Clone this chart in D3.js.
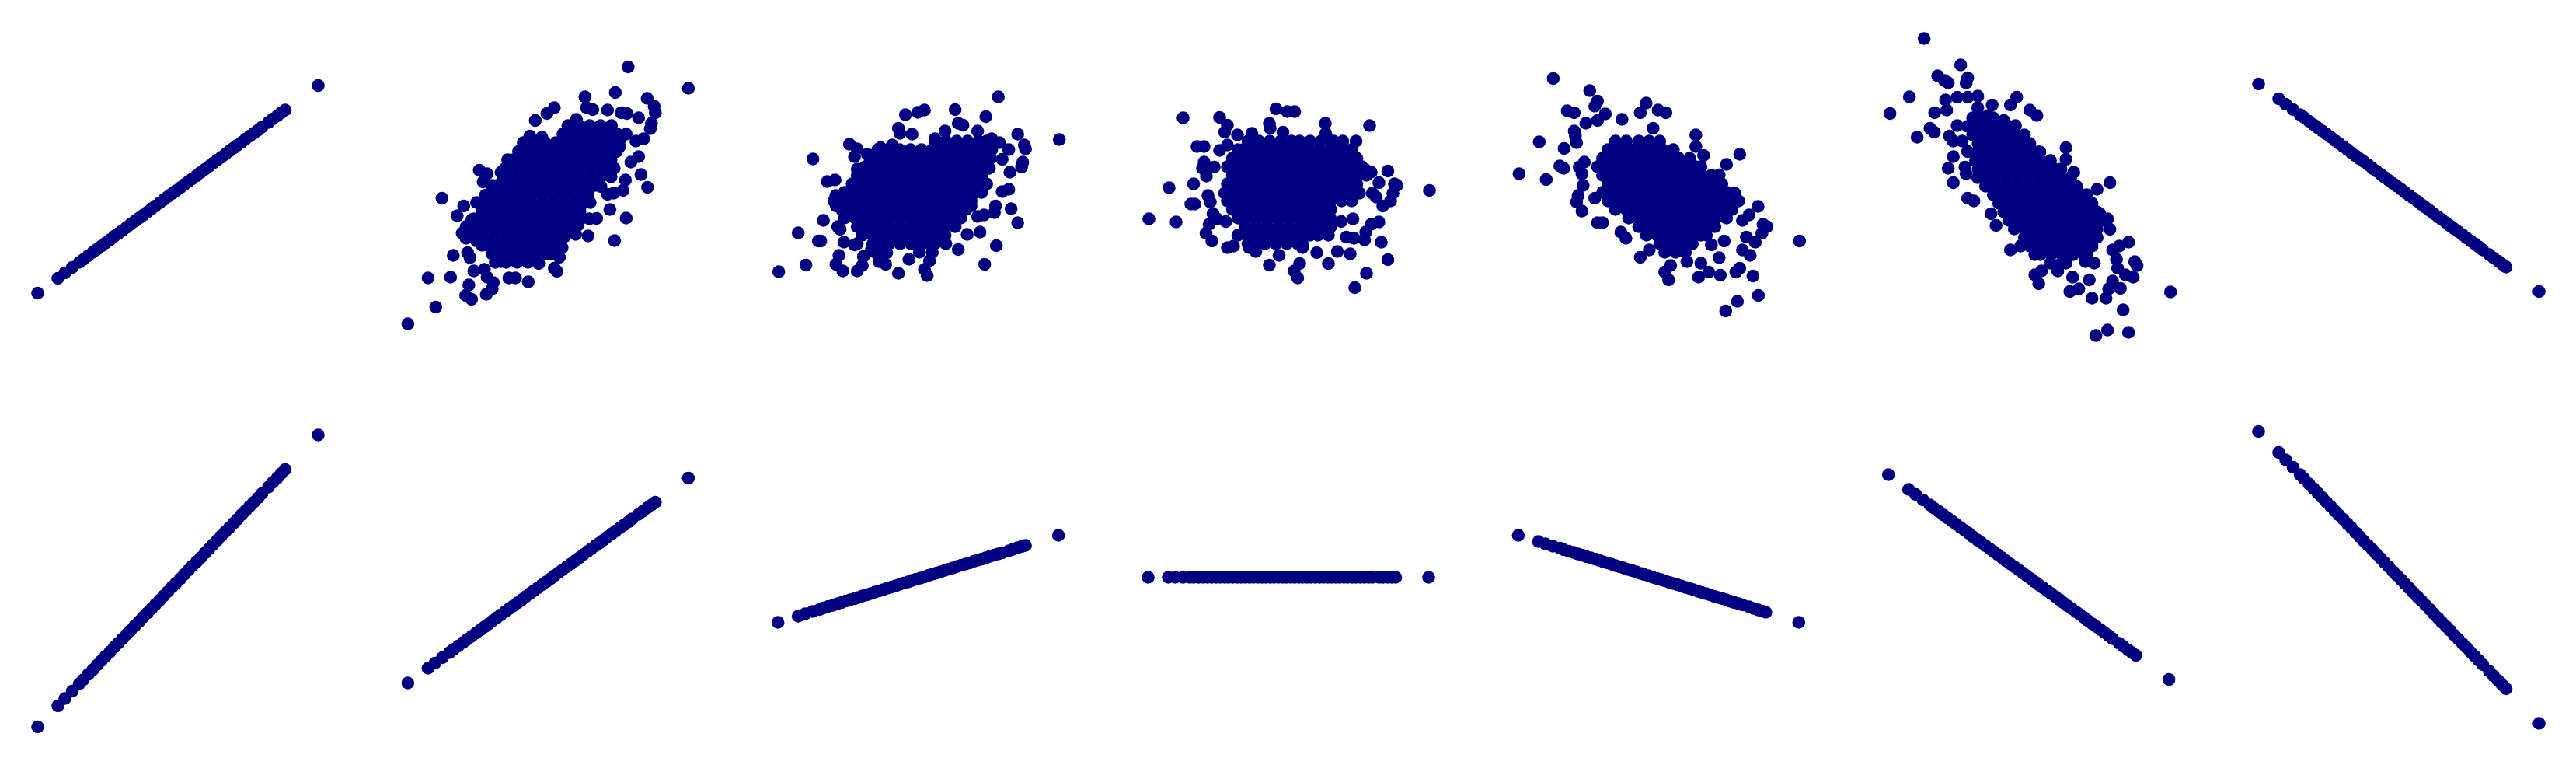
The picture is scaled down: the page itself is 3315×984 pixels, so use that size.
<!DOCTYPE html>
<html><head><meta charset="utf-8">
<script src="https://cdn.jsdelivr.net/npm/d3@7"></script>
<style>html,body{margin:0;padding:0;background:#fff;}svg{display:block;}</style>
</head><body>
<svg id="chart" width="3315" height="984"></svg>
<script>
// ---------- DATA (in standardised units) ----------
// shared x sample used by the perfectly linear panels
const xShared = [-3.57,-3.05,-2.87,-2.68,-2.5,-2.4,-2.27,-2.15,-2.04,-1.93,-1.82,-1.71,-1.6,-1.5,-1.39,-1.28,-1.18,-1.07,-0.96,-0.86,-0.75,-0.64,-0.54,-0.43,-0.33,-0.22,-0.11,-0.01,0.1,0.2,0.31,0.41,0.52,0.62,0.73,0.84,0.94,1.05,1.15,1.26,1.36,1.47,1.57,1.68,1.78,1.89,1.99,2.1,2.2,2.37,2.48,2.6,2.7,2.8,3.65];

// row 1, r = 1 and r = -1
const yR1C1 = [-2.64,-2.26,-2.12,-1.98,-1.85,-1.78,-1.68,-1.59,-1.51,-1.43,-1.35,-1.27,-1.18,-1.11,-1.03,-0.95,-0.87,-0.79,-0.71,-0.64,-0.56,-0.47,-0.40,-0.32,-0.24,-0.16,-0.08,-0.01,0.07,0.15,0.23,0.30,0.38,0.46,0.54,0.62,0.70,0.78,0.85,0.93,1.01,1.09,1.16,1.24,1.32,1.40,1.47,1.55,1.63,1.75,1.84,1.92,2.00,2.07,2.70];
const yR1C7 = [2.74,2.36,2.22,2.08,1.95,1.88,1.78,1.69,1.61,1.53,1.45,1.37,1.28,1.21,1.13,1.05,0.97,0.89,0.81,0.74,0.66,0.57,0.50,0.42,0.34,0.26,0.18,0.11,0.03,-0.05,-0.13,-0.20,-0.28,-0.36,-0.44,-0.52,-0.60,-0.68,-0.75,-0.83,-0.91,-0.99,-1.06,-1.14,-1.22,-1.30,-1.37,-1.45,-1.53,-1.65,-1.74,-1.82,-1.90,-1.97,-2.60];

// row 2, r = 1 / -1 / 0 with different slopes
const yR2C1 = [-3.80,-3.26,-3.07,-2.88,-2.69,-2.59,-2.45,-2.33,-2.21,-2.10,-1.98,-1.87,-1.75,-1.65,-1.54,-1.42,-1.32,-1.20,-1.09,-0.98,-0.87,-0.76,-0.65,-0.54,-0.43,-0.32,-0.20,-0.10,0.01,0.12,0.23,0.34,0.45,0.55,0.67,0.78,0.89,1.00,1.11,1.22,1.32,1.44,1.54,1.66,1.76,1.88,1.98,2.09,2.20,2.37,2.49,2.61,2.72,2.82,3.71];
const yR2C2 = [-2.67,-2.29,-2.16,-2.02,-1.89,-1.81,-1.72,-1.63,-1.55,-1.47,-1.39,-1.31,-1.23,-1.16,-1.07,-0.99,-0.92,-0.84,-0.76,-0.69,-0.61,-0.53,-0.45,-0.37,-0.30,-0.22,-0.14,-0.07,0.01,0.09,0.17,0.24,0.32,0.39,0.47,0.55,0.63,0.71,0.78,0.86,0.93,1.01,1.09,1.17,1.24,1.32,1.39,1.47,1.55,1.67,1.75,1.84,1.91,1.98,2.60];
const yR2C3 = [-1.11,-0.95,-0.89,-0.83,-0.78,-0.74,-0.70,-0.67,-0.63,-0.60,-0.56,-0.53,-0.50,-0.47,-0.43,-0.40,-0.37,-0.33,-0.30,-0.27,-0.23,-0.20,-0.17,-0.13,-0.10,-0.07,-0.03,0.00,0.03,0.06,0.10,0.13,0.16,0.19,0.23,0.26,0.29,0.33,0.36,0.39,0.42,0.46,0.49,0.52,0.55,0.59,0.62,0.65,0.68,0.73,0.77,0.81,0.84,0.87,1.13];
const yR2C4 = [0.05,0.05,0.05,0.05,0.05,0.05,0.05,0.05,0.05,0.05,0.05,0.05,0.05,0.05,0.05,0.05,0.05,0.05,0.05,0.05,0.05,0.05,0.05,0.05,0.05,0.05,0.05,0.05,0.05,0.05,0.05,0.05,0.05,0.05,0.05,0.05,0.05,0.05,0.05,0.05,0.05,0.05,0.05,0.05,0.05,0.05,0.05,0.05,0.05,0.05,0.05,0.05,0.05,0.05,0.05];
const yR2C5 = [1.13,0.97,0.91,0.85,0.80,0.76,0.72,0.69,0.65,0.62,0.58,0.55,0.52,0.49,0.45,0.42,0.39,0.35,0.32,0.29,0.25,0.22,0.19,0.15,0.12,0.09,0.05,0.02,-0.01,-0.04,-0.08,-0.11,-0.14,-0.17,-0.21,-0.24,-0.27,-0.31,-0.34,-0.37,-0.40,-0.44,-0.47,-0.50,-0.53,-0.57,-0.60,-0.63,-0.66,-0.71,-0.75,-0.79,-0.82,-0.85,-1.11];
const yR2C6 = [2.69,2.31,2.18,2.04,1.91,1.83,1.74,1.65,1.57,1.49,1.41,1.33,1.25,1.18,1.09,1.01,0.94,0.86,0.78,0.71,0.63,0.55,0.47,0.39,0.32,0.24,0.16,0.09,0.01,-0.07,-0.15,-0.22,-0.30,-0.37,-0.45,-0.53,-0.61,-0.69,-0.76,-0.84,-0.91,-0.99,-1.07,-1.15,-1.22,-1.30,-1.37,-1.45,-1.53,-1.65,-1.73,-1.82,-1.89,-1.96,-2.58];
const yR2C7 = [3.80,3.26,3.07,2.88,2.69,2.59,2.45,2.33,2.21,2.10,1.98,1.87,1.75,1.65,1.54,1.42,1.32,1.20,1.09,0.98,0.87,0.76,0.65,0.54,0.43,0.32,0.20,0.10,-0.01,-0.12,-0.23,-0.34,-0.45,-0.55,-0.67,-0.78,-0.89,-1.00,-1.11,-1.22,-1.32,-1.44,-1.54,-1.66,-1.76,-1.88,-1.98,-2.09,-2.20,-2.37,-2.49,-2.61,-2.72,-2.82,-3.71];

// scattered clouds: outlying points as [x, y]
const outer08 = [[2.1,3.18],[3.65,2.63],[1.77,2.52],[0.99,2.41],[2.59,2.37],[2.77,2.17],[2.8,2.0],[2.7,1.73],[2.67,1.59],[2.37,1.87],[2.07,1.98],[1.92,2.0],[1.57,2.07],[1.03,2.13],[1.19,2.08],[0.2,2.13],[0.01,1.98],[-0.29,1.8],[0.77,1.83],[2.5,1.33],[2.3,1.27],[1.87,1.27],[1.88,1.13],[2.37,0.87],[2.17,0.73],[2.43,0.41],[2.6,0.08],[2.03,0.27],[1.97,0.0],[1.73,-0.07],[1.57,-0.1],[1.4,0.1],[1.63,-0.49],[2.05,-0.71],[1.29,-0.72],[1.1,-0.73],[1.07,-1.17],[1.75,-1.29],[0.75,-1.13],[0.8,-0.9],[0.37,-1.27],[0.4,-1.47],[0.33,-1.72],[0.27,-2.08],[0.2,-2.0],[-0.2,-1.88],[-0.47,-2.35],[-0.8,-2.25],[-0.97,-2.25],[-0.77,-1.83],[-1.17,-1.83],[-1.4,-2.53],[-1.55,-2.67],[-1.37,-2.37],[-1.93,-2.8],[-2.08,-2.7],[-2.0,-2.43],[-2.47,-2.23],[-2.4,-1.67],[-3.05,-2.25],[-2.85,-3.0],[-3.57,-3.43],[-1.97,-1.73],[-2.03,-1.6],[-1.87,-2.07],[-1.6,-2.03],[-1.53,-2.23],[-2.69,-0.2],[-2.3,-0.65],[-2.13,-0.4],[-2.07,-0.93],[-2.17,-1.1],[-2.07,-1.23],[-1.8,-1.3],[-1.73,0.52],[-1.53,0.43],[-1.63,0.22],[-1.17,0.47],[-1.57,-0.12],[-0.43,1.4],[-0.47,1.27],[-0.12,1.37],[-0.63,0.87],[-0.92,0.73],[-1.87,-0.73]];
const outer04 = [[2.1,2.41],[3.67,1.31],[1.78,1.9],[0.99,2.08],[1.07,1.73],[1.19,1.68],[2.6,1.45],[2.77,1.17],[2.8,1.07],[2.73,0.73],[2.7,0.6],[2.37,1.05],[2.2,0.8],[2.4,0.47],[1.87,0.57],[1.57,1.53],[1.93,1.33],[2.13,1.23],[0.2,2.07],[0.03,2.01],[-0.29,1.95],[-0.47,1.6],[-0.43,1.47],[-0.12,1.45],[0.73,1.53],[0.47,1.33],[2.37,0.03],[2.2,-0.03],[1.67,0.2],[2.43,-0.47],[2.6,-0.83],[2.0,-0.57],[2.03,-0.4],[1.73,-0.63],[1.57,-0.67],[1.4,-0.4],[1.63,-1.07],[2.05,-1.42],[1.3,-1.13],[1.07,-1.52],[1.75,-1.9],[0.75,-1.37],[0.37,-1.4],[0.33,-1.81],[0.27,-2.19],[0.2,-2.03],[-0.2,-1.77],[-0.47,-2.13],[-0.8,-1.9],[-0.97,-1.83],[-0.77,-1.6],[-1.17,-1.53],[-1.4,-1.93],[-1.53,-2.07],[-1.37,-1.7],[-1.9,-2.07],[-2.08,-1.9],[-2.0,-1.67],[-2.47,-1.3],[-2.53,-1.3],[-2.4,-0.77],[-3.05,-1.09],[-2.85,-1.92],[-3.55,-2.09],[-1.97,-1.0],[-2.03,-0.93],[-1.87,-1.33],[-1.53,-1.37],[-1.6,-1.4],[-2.67,0.81],[-2.3,0.23],[-2.1,0.27],[-2.08,-0.13],[-2.13,-0.27],[-2.07,-0.4],[-1.73,1.19],[-1.53,1.07],[-1.6,0.87],[-1.27,0.93],[-1.13,0.9],[-1.53,0.55],[-0.63,1.17],[-0.93,1.1],[-1.87,-0.07]];
const outer00 = [[2.13,1.67],[3.67,0],[1.78,1.27],[0.99,1.73],[1.0,1.47],[1.2,1.27],[2.6,0.5],[2.77,0.17],[2.83,0.13],[2.73,-0.07],[2.67,-0.27],[2.37,0.2],[2.2,-0.07],[2.3,-0.17],[2.47,-0.4],[2.03,0.53],[2.17,0.47],[1.6,0.97],[0.2,2.03],[0.01,2.03],[-0.28,2.1],[-0.45,1.73],[-0.43,1.6],[-0.1,1.5],[2.37,-0.81],[2.17,-0.87],[1.87,-0.07],[1.7,-0.73],[2.43,-1.33],[2.6,-1.78],[2.0,-1.27],[2.03,-1.07],[1.73,-1.23],[1.53,-1.2],[1.4,-0.8],[1.63,-1.63],[2.05,-2.13],[1.3,-1.57],[1.07,-1.88],[1.75,-2.5],[0.77,-1.6],[0.4,-1.47],[0.33,-1.88],[0.28,-2.25],[0.19,-2.07],[-0.2,-1.67],[-0.45,-1.92],[-0.8,-1.57],[-0.97,-1.47],[-1.37,-1.43],[-1.53,-1.47],[-1.93,-1.3],[-2.08,-1.1],[-2.0,-0.87],[-2.47,-0.35],[-2.37,-0.35],[-2.4,0.17],[-3.03,0.07],[-2.85,-0.81],[-3.55,-0.73],[-1.9,-0.6],[-1.8,-0.73],[-1.57,-0.8],[-2.03,-0.13],[-1.97,-0.3],[-2.67,1.87],[-2.31,1.13],[-2.13,1.13],[-2.13,0.73],[-2.17,0.57],[-2.07,0.37],[-1.73,1.88],[-1.53,1.68],[-1.6,1.5],[-1.53,1.17],[-1.73,1.03],[-1.27,1.43],[-0.9,1.47],[-1.87,0.6],[-1.6,-0.07]];
const outerN04 = [[-2.67,2.88],[-1.73,2.57],[-1.53,2.3],[-1.6,2.17],[-2.31,2.05],[-2.13,2.0],[-3.03,1.25],[-3.55,0.43],[-2.85,0.28],[-2.39,1.08],[-2.5,0.63],[-2.4,0.57],[-2.13,1.53],[-2.1,1.4],[-2.07,1.23],[-1.83,1.73],[-1.53,1.8],[-1.33,1.97],[-0.9,1.83],[-0.28,2.25],[-0.43,2.0],[0.03,2.07],[0.23,2.0],[-0.1,1.6],[1.0,1.43],[-1.87,0.73],[-2.0,0.6],[-1.93,0.43],[-1.9,0.13],[-2.03,-0.13],[-2.07,-0.3],[-1.93,-0.53],[-1.6,-0.2],[-1.53,-0.83],[-1.4,-0.83],[-0.93,-1.07],[-0.8,-1.23],[-0.43,-1.72],[-0.2,-1.53],[0.2,-2.1],[0.3,-2.3],[0.35,-1.93],[0.77,-1.83],[1.07,-2.23],[1.33,-2.1],[1.63,-2.18],[1.13,-1.87],[1.6,-1.73],[2.03,-2.1],[1.77,-3.1],[2.07,-2.85],[2.61,-2.7],[2.47,-2.2],[2.4,-1.67],[2.2,-1.53],[2.13,-2.0],[1.73,-1.3],[1.4,-1.4],[2.37,-0.63],[2.2,-0.77],[2.3,-1.2],[2.53,-1.33],[2.73,-0.87],[2.83,-0.93],[2.7,-1.1],[2.6,-0.41],[3.67,-1.3],[2.13,0.93],[1.79,0.67],[2.1,-0.27],[2.0,-0.07],[1.6,0.4],[1.2,0.9],[1.0,1.13]];
const outerN08 = [[-2.65,3.91],[-1.71,3.23],[-1.53,2.9],[-1.57,2.77],[-2.3,2.95],[-2.13,2.83],[-2.03,2.77],[-3.03,2.41],[-3.53,1.98],[-2.83,1.37],[-2.38,2.0],[-2.5,1.6],[-2.39,1.5],[-2.1,2.33],[-2.07,2.07],[-1.8,2.4],[-1.53,2.4],[-1.27,2.43],[-0.27,2.4],[-0.43,2.2],[0.07,2.07],[0.25,1.93],[-0.9,2.2],[-2.0,1.4],[-1.9,1.27],[-1.9,0.87],[-2.03,0.57],[-1.9,0.2],[-1.57,0.43],[-1.53,-0.2],[-1.37,-0.27],[-0.93,-0.6],[-0.8,-0.9],[-0.43,-1.53],[-0.17,-1.43],[0.2,-2.17],[0.3,-2.4],[0.37,-2.07],[0.79,-2.07],[1.1,-2.6],[1.33,-2.53],[1.17,-2.23],[1.67,-2.77],[1.6,-2.3],[2.03,-2.77],[2.1,-2.53],[2.2,-2.33],[2.4,-2.52],[1.77,-3.73],[2.07,-3.59],[2.61,-3.65],[2.47,-3.07],[2.33,-2.0],[2.53,-2.17],[2.73,-2.23],[2.77,-1.83],[2.83,-1.93],[2.2,-1.53],[2.37,-1.43],[2.3,-1.77],[2.61,-1.33],[3.69,-2.61],[2.13,0.2],[1.8,0.03],[1.73,-1.87],[1.5,-1.83],[1.43,-1.47],[1.0,1.1],[1.0,0.8],[1.2,0.47],[2.07,-0.73],[2.13,-1.0],[1.87,-0.6],[-1.8,1.67],[-1.67,1.27],[-1.53,1.0],[-1.6,0.6],[-1.27,2.13],[-1.0,1.93],[-0.6,1.8],[-0.3,1.67]];

// dense cores, read row by row: [y, x1, x2, ...]
const core08 = [
[1.67,0.55,0.83,1.11,1.39,1.67],
[1.45,0.42,0.7,0.98,1.26,1.54,1.82,2.05],
[1.23,-0.6,-0.32,-0.04,0.24,0.52,0.8,1.08,1.36,1.64,1.8],
[1.0,-0.72,-0.44,-0.16,0.12,0.4,0.68,0.96,1.24,1.52,1.8],
[0.79,-1.0,-0.86,-0.58,-0.3,-0.02,0.26,0.54,0.82,1.1,1.38,1.66],
[0.57,-1.06,-0.78,-0.5,-0.22,0.06,0.34,0.62,0.9,1.18,1.46,1.74],
[0.35,-1.12,-0.84,-0.56,-0.28,0,0.28,0.56,0.84,1.12,1.4,1.66],
[0.13,-1.4,-1.26,-0.98,-0.7,-0.42,-0.14,0.14,0.42,0.7,0.98,1.26],
[-0.09,-1.46,-1.18,-0.9,-0.62,-0.34,-0.06,0.22,0.5,0.78,1.06],
[-0.31,-1.8,-1.52,-1.24,-0.96,-0.68,-0.4,-0.12,0.16,0.44,0.72,1.0,1.12],
[-0.53,-1.66,-1.38,-1.1,-0.82,-0.54,-0.26,0.02,0.3,0.58,0.86],
[-0.75,-1.92,-1.78,-1.5,-1.22,-0.94,-0.66,-0.38,-0.1,0.18,0.46,0.74,0.86],
[-0.97,-1.86,-1.58,-1.3,-1.02,-0.74,-0.46,-0.18,0.1,0.38,0.6],
[-1.19,-1.92,-1.64,-1.36,-1.08,-0.8,-0.52,-0.24,0.04,0.32,0.46],
[-1.41,-1.66,-1.52,-1.24,-0.96,-0.68,-0.4,-0.12,0.16,0.2],
[-1.63,-1.4,-1.12,-0.84,-0.56,-0.28,0,0.12],
[-1.85,-1.32,-1.04,-0.76,-0.48]];
const core04 = [
[1.27,0.47,0.75,1.03,1.31,1.59,1.8],
[1.05,-1.0,-0.72,-0.44,-0.16,0.12,0.4,0.68,0.96,1.24,1.52,1.8,1.93],
[0.83,-1.2,-0.92,-0.64,-0.36,-0.08,0.2,0.48,0.76,1.04,1.32,1.6,1.9],
[0.61,-1.33,-1.05,-0.77,-0.49,-0.21,0.07,0.35,0.63,0.91,1.19,1.47,1.75],
[0.39,-1.53,-1.25,-0.97,-0.69,-0.41,-0.13,0.15,0.43,0.71,0.99,1.27,1.55,1.67],
[0.17,-1.66,-1.38,-1.1,-0.82,-0.54,-0.26,0.02,0.3,0.58,0.86,1.14,1.42,1.7,1.8],
[-0.05,-1.86,-1.58,-1.3,-1.02,-0.74,-0.46,-0.18,0.1,0.38,0.66,0.94,1.22,1.5,1.67],
[-0.27,-1.92,-1.64,-1.36,-1.08,-0.8,-0.52,-0.24,0.04,0.32,0.6,0.88,1.16,1.4],
[-0.49,-1.93,-1.79,-1.51,-1.23,-0.95,-0.67,-0.39,-0.11,0.17,0.45,0.73,1.01,1.27],
[-0.71,-1.86,-1.58,-1.3,-1.02,-0.74,-0.46,-0.18,0.1,0.38,0.66,0.94,1.13],
[-0.93,-1.53,-1.25,-0.97,-0.69,-0.41,-0.13,0.15,0.43,0.71,0.99],
[-1.15,-1.4,-1.12,-0.84,-0.56,-0.28,0,0.28,0.56,0.73],
[-1.37,-1.13,-0.99,-0.71,-0.43,-0.15,0.13,0.41,0.47],
[-1.59,-1.07,-0.8,0.07,0.4]];
const core00 = [
[1.27,-1.0,-0.72,-0.44,-0.16,0.12,0.33,0.6,0.88,1.16,1.44],
[1.05,-1.26,-1.12,-0.84,-0.56,-0.28,0,0.28,0.56,0.84,1.12,1.4,1.67],
[0.83,-1.4,-1.26,-0.98,-0.7,-0.42,-0.14,0.14,0.42,0.7,0.98,1.26,1.54,1.8],
[0.61,-1.53,-1.39,-1.11,-0.83,-0.55,-0.27,0.01,0.29,0.57,0.85,1.13,1.41,1.69,1.93],
[0.39,-1.4,-1.26,-0.98,-0.7,-0.42,-0.14,0.14,0.42,0.7,0.98,1.26,1.54,1.82,2.05],
[0.17,-1.53,-1.39,-1.11,-0.83,-0.55,-0.27,0.01,0.29,0.57,0.85,1.13,1.41,1.69,1.8],
[-0.05,-1.4,-1.26,-0.98,-0.7,-0.42,-0.14,0.14,0.42,0.7,0.98,1.26,1.54,1.8],
[-0.27,-1.53,-1.39,-1.11,-0.83,-0.55,-0.27,0.01,0.29,0.57,0.85,1.13,1.41,1.67],
[-0.49,-1.4,-1.26,-0.98,-0.7,-0.42,-0.14,0.14,0.42,0.7,0.98,1.13],
[-0.71,-1.26,-1.12,-0.84,-0.56,-0.28,0,0.28,0.56,0.84,1.12],
[-0.93,-1.07,-0.79,-0.51,-0.23,0.05,0.33,0.61,0.89,1.13],
[-1.15,-1.26,-0.98,-0.7,-0.42,-0.14,0.14,0.42,0.6,0.8,1.07],
[-1.37,-1.0,-0.84,-0.56,-0.28,0,0.28,0.4]];
const coreN04 = [
[1.27,-1.07,-0.79,-0.47,-0.2,0.07],
[1.05,-1.26,-0.98,-0.7,-0.42,-0.14,0.14,0.42],
[0.83,-1.4,-1.12,-0.84,-0.56,-0.28,0,0.28,0.56,0.84],
[0.61,-1.53,-1.25,-0.97,-0.69,-0.41,-0.13,0.15,0.43,0.71,0.99,1.13],
[0.39,-1.4,-1.12,-0.84,-0.56,-0.28,0,0.28,0.56,0.84,1.12,1.4],
[0.17,-1.26,-0.98,-0.7,-0.42,-0.14,0.14,0.42,0.7,0.98,1.26,1.54,1.67],
[-0.05,-1.4,-1.12,-0.84,-0.56,-0.28,0,0.28,0.56,0.84,1.12,1.4,1.68,1.8],
[-0.27,-1.26,-0.98,-0.7,-0.42,-0.14,0.14,0.42,0.7,0.98,1.26,1.54,1.82,1.93],
[-0.49,-1.07,-0.79,-0.51,-0.23,0.05,0.33,0.61,0.89,1.17,1.45,1.73,1.93],
[-0.71,-0.73,-0.45,-0.17,0.11,0.39,0.67,0.95,1.23,1.51,1.79],
[-0.93,-0.47,-0.33,-0.05,0.23,0.51,0.79,1.07,1.35,1.49],
[-1.15,-0.27,0.01,0.29,0.57,0.85,1.13,1.27],
[-1.37,0.07,0.35,0.63,0.91],
[-1.59,0.2,0.48,0.73]];
const coreN08 = [
[1.87,-1.4,-1.12,-0.87],
[1.65,-1.53,-1.25,-0.97,-0.69,-0.47],
[1.43,-1.4,-1.12,-0.84,-0.56,-0.28,-0.07],
[1.21,-1.26,-0.98,-0.7,-0.42,-0.14,0.07],
[0.99,-1.27,-1.12,-0.84,-0.56,-0.28,0,0.28,0.33],
[0.77,-1.33,-1.05,-0.77,-0.49,-0.21,0.07,0.35,0.6],
[0.55,-1.26,-0.98,-0.7,-0.42,-0.14,0.14,0.42,0.7,0.87],
[0.33,-1.27,-1.12,-0.84,-0.56,-0.28,0,0.28,0.56,0.84,1.12],
[0.11,-1.07,-0.79,-0.51,-0.23,0.05,0.33,0.61,0.89,1.17,1.27],
[-0.11,-0.87,-0.59,-0.31,-0.03,0.25,0.53,0.81,1.09,1.37,1.53],
[-0.33,-0.73,-0.45,-0.17,0.11,0.39,0.67,0.95,1.23,1.51,1.67],
[-0.55,-0.6,-0.32,-0.04,0.24,0.52,0.8,1.08,1.36,1.64,1.8],
[-0.77,-0.47,-0.19,0.09,0.37,0.65,0.93,1.21,1.49,1.77,1.93],
[-0.99,-0.33,-0.05,0.23,0.51,0.79,1.07,1.35,1.63,1.8],
[-1.21,-0.07,0.07,0.35,0.63,0.91,1.19,1.47,1.75,1.8],
[-1.43,0.07,0.21,0.49,0.77,1.05,1.33,1.61,1.67],
[-1.65,0.2,0.34,0.62,0.9,1.18,1.46,1.53],
[-1.87,0.6,0.88,1.0]];

// ---------- BUILD ----------
const rowsToPoints = rows => rows.flatMap(r => r.slice(1).map(x => [x, r[0]]));
const cloud = (outer, core) => outer.concat(rowsToPoints(core));
const line = ys => d3.zip(xShared, ys);

const panels = [
  {row:0, col:0, pts: line(yR1C1)},
  {row:0, col:1, pts: cloud(outer08, core08)},
  {row:0, col:2, pts: cloud(outer04, core04)},
  {row:0, col:3, pts: cloud(outer00, core00)},
  {row:0, col:4, pts: cloud(outerN04, coreN04)},
  {row:0, col:5, pts: cloud(outerN08, coreN08)},
  {row:0, col:6, pts: line(yR1C7)},
  {row:1, col:0, pts: line(yR2C1)},
  {row:1, col:1, pts: line(yR2C2)},
  {row:1, col:2, pts: line(yR2C3)},
  {row:1, col:3, pts: line(yR2C4)},
  {row:1, col:4, pts: line(yR2C5)},
  {row:1, col:5, pts: line(yR2C6)},
  {row:1, col:6, pts: line(yR2C7)}
];

const svg = d3.select("#chart");
const colPos = d3.scalePoint().domain(d3.range(7)).range([227, 3085]);
const rowPos = d3.scalePoint().domain([0, 1]).range([245, 745]);
const half = 210, lim = 4.2;

panels.forEach(p => {
  const cx = colPos(p.col), cy = rowPos(p.row);
  const x = d3.scaleLinear().domain([-lim, lim]).range([cx - half, cx + half]);
  const y = d3.scaleLinear().domain([-lim, lim]).range([cy + half, cy - half]);
  svg.append("g")
    .selectAll("circle")
    .data(p.pts)
    .join("circle")
    .attr("cx", d => x(d[0]))
    .attr("cy", d => y(d[1]))
    .attr("r", 8.3)
    .attr("fill", "#000080");
});
</script>
</body></html>
